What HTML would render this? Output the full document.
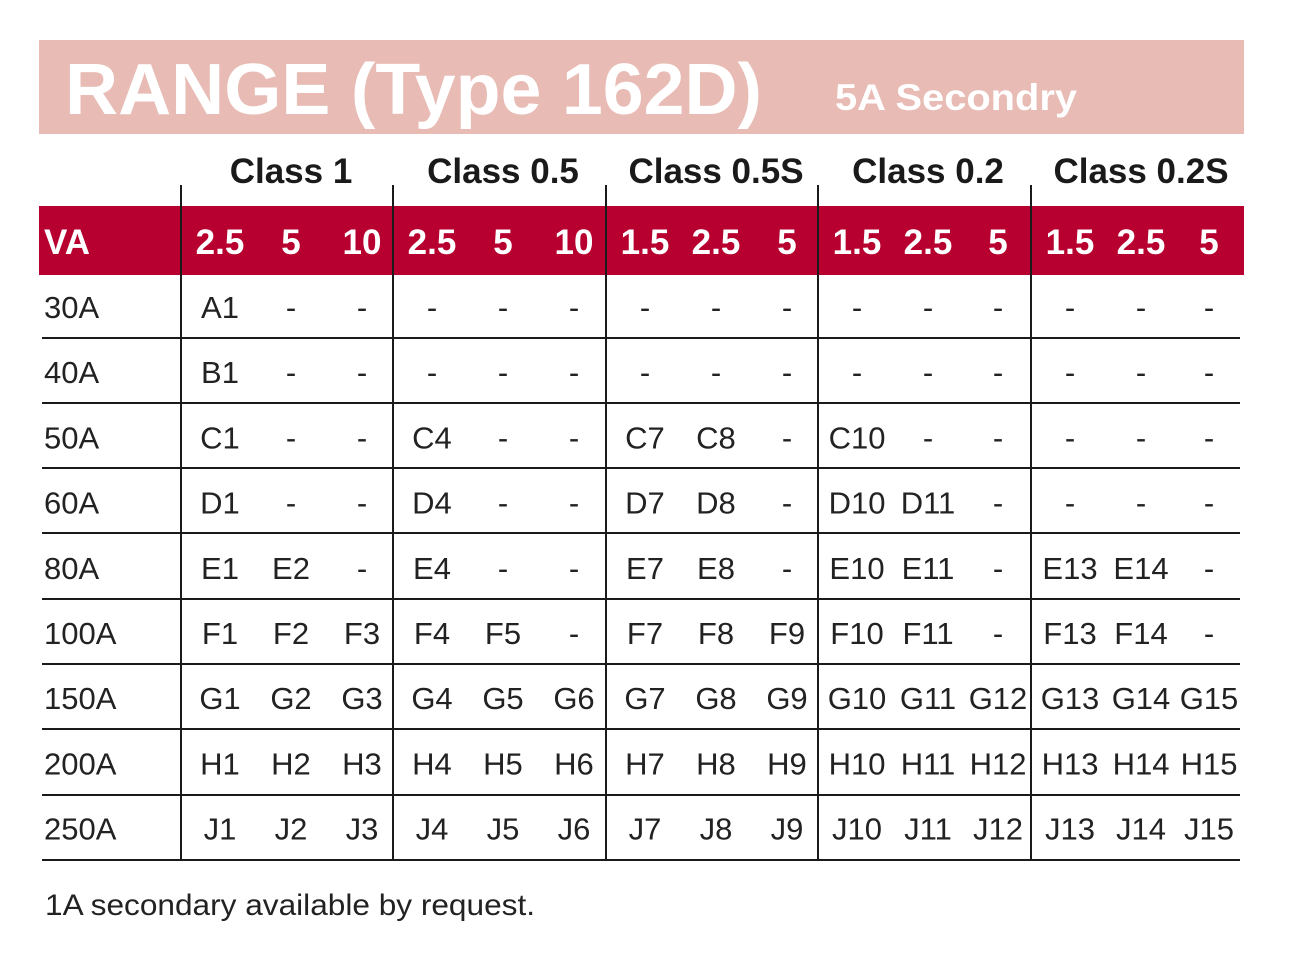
<!DOCTYPE html>
<html><head><meta charset="utf-8"><style>
html,body{margin:0;padding:0;background:#fff;}
svg{display:block;}
</style></head><body>
<svg width="1307" height="967" viewBox="0 0 1307 967" xmlns="http://www.w3.org/2000/svg" font-family="Liberation Sans, sans-serif">
<rect x="39" y="40" width="1205" height="94" fill="#e8bbb4"/>
<text x="65" y="114" font-size="72" font-weight="bold" fill="#fff" textLength="697" lengthAdjust="spacingAndGlyphs">RANGE (Type 162D)</text>
<text x="835" y="110" font-size="37" font-weight="bold" fill="#fff" textLength="242" lengthAdjust="spacingAndGlyphs">5A Secondry</text>
<g font-size="35" font-weight="bold" fill="#1a1a1a" text-anchor="middle">
<text x="291" y="183">Class 1</text>
<text x="503" y="183">Class 0.5</text>
<text x="716" y="183">Class 0.5S</text>
<text x="928" y="183">Class 0.2</text>
<text x="1141" y="183">Class 0.2S</text>
</g>
<rect x="39" y="206" width="1205" height="69" fill="#b80030"/>
<text x="44" y="254" font-size="35" font-weight="bold" fill="#fff">VA</text>
<g font-size="35" font-weight="bold" fill="#fff" text-anchor="middle">
<text x="220" y="254">2.5</text><text x="291" y="254">5</text><text x="362" y="254">10</text>
<text x="432" y="254">2.5</text><text x="503" y="254">5</text><text x="574" y="254">10</text>
<text x="645" y="254">1.5</text><text x="716" y="254">2.5</text><text x="787" y="254">5</text>
<text x="857" y="254">1.5</text><text x="928" y="254">2.5</text><text x="998" y="254">5</text>
<text x="1070" y="254">1.5</text><text x="1141" y="254">2.5</text><text x="1209" y="254">5</text>
</g>
<g stroke="#1a1a1a" stroke-width="2">
<line x1="181" y1="185" x2="181" y2="861"/>
<line x1="393" y1="185" x2="393" y2="861"/>
<line x1="606" y1="185" x2="606" y2="861"/>
<line x1="818" y1="185" x2="818" y2="861"/>
<line x1="1031" y1="185" x2="1031" y2="861"/>
<line x1="42" y1="338" x2="1240" y2="338"/>
<line x1="42" y1="403" x2="1240" y2="403"/>
<line x1="42" y1="468" x2="1240" y2="468"/>
<line x1="42" y1="533" x2="1240" y2="533"/>
<line x1="42" y1="599" x2="1240" y2="599"/>
<line x1="42" y1="664" x2="1240" y2="664"/>
<line x1="42" y1="729" x2="1240" y2="729"/>
<line x1="42" y1="795" x2="1240" y2="795"/>
<line x1="42" y1="860" x2="1240" y2="860"/>
</g>
<g font-size="31" fill="#222" id="rows"></g>
<text x="45" y="915" font-size="30" fill="#222" textLength="490" lengthAdjust="spacingAndGlyphs">1A secondary available by request.</text>
</svg>
<script>
var rows=[
["30A","A1","-","-","-","-","-","-","-","-","-","-","-","-","-","-"],
["40A","B1","-","-","-","-","-","-","-","-","-","-","-","-","-","-"],
["50A","C1","-","-","C4","-","-","C7","C8","-","C10","-","-","-","-","-"],
["60A","D1","-","-","D4","-","-","D7","D8","-","D10","D11","-","-","-","-"],
["80A","E1","E2","-","E4","-","-","E7","E8","-","E10","E11","-","E13","E14","-"],
["100A","F1","F2","F3","F4","F5","-","F7","F8","F9","F10","F11","-","F13","F14","-"],
["150A","G1","G2","G3","G4","G5","G6","G7","G8","G9","G10","G11","G12","G13","G14","G15"],
["200A","H1","H2","H3","H4","H5","H6","H7","H8","H9","H10","H11","H12","H13","H14","H15"],
["250A","J1","J2","J3","J4","J5","J6","J7","J8","J9","J10","J11","J12","J13","J14","J15"]];
var xs=[220,291,362,432,503,574,645,716,787,857,928,998,1070,1141,1209];
var g=document.getElementById('rows'),h='';
rows.forEach(function(r,i){var y=318+i*65.2;
h+='<text x="44" y="'+y+'">'+r[0]+'</text>';
for(var j=1;j<16;j++)h+='<text x="'+xs[j-1]+'" y="'+y+'" text-anchor="middle">'+r[j]+'</text>';});
g.innerHTML=h;
</script>
</body></html>
